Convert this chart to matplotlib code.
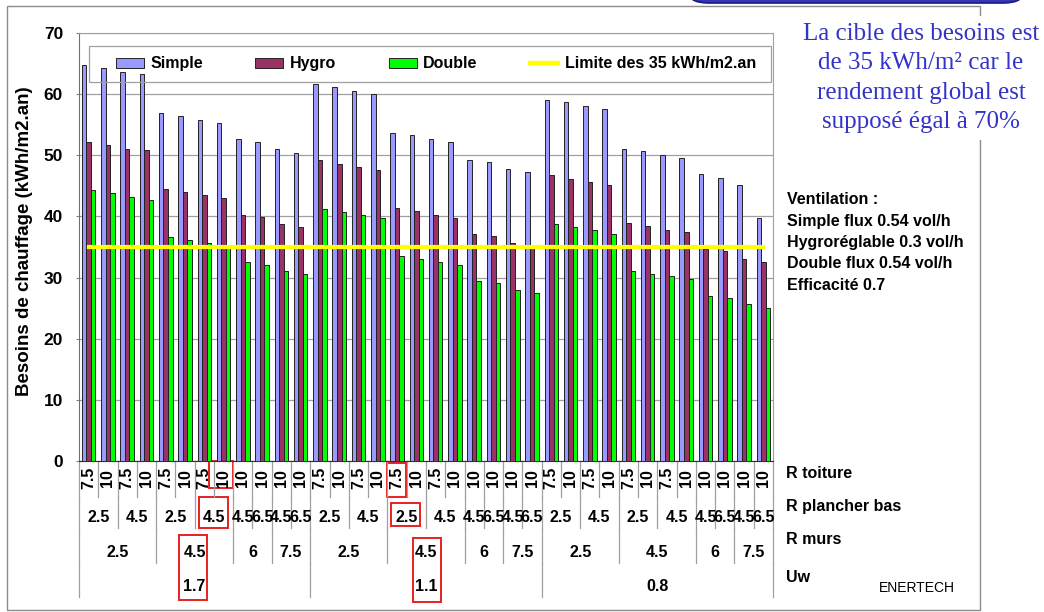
import matplotlib
matplotlib.use("Agg")
import matplotlib.pyplot as plt
import matplotlib.transforms as mtransforms
from matplotlib.patches import Rectangle, FancyBboxPatch, Patch
from matplotlib.lines import Line2D
import numpy as np

plt.rcParams['font.family'] = ['Liberation Sans', 'DejaVu Sans']

# Besoins de chauffage (kWh/m2.an) per configuration
simple = [64.8, 64.3, 63.7, 63.3, 56.9, 56.4, 55.7, 55.2, 52.7, 52.2, 51.0, 50.4,
          61.6, 61.1, 60.5, 60.1, 53.7, 53.3, 52.6, 52.1, 49.3, 48.9, 47.7, 47.3,
          59.1, 58.7, 58.1, 57.5, 51.1, 50.7, 50.1, 49.6, 46.9, 46.3, 45.2, 39.8]
hygro = [52.1, 51.7, 51.1, 50.8, 44.5, 44.0, 43.5, 43.0, 40.3, 39.9, 38.7, 38.3,
         49.2, 48.6, 48.1, 47.6, 41.4, 40.9, 40.3, 39.8, 37.2, 36.8, 35.6, 34.9,
         46.8, 46.2, 45.7, 45.1, 38.9, 38.4, 37.8, 37.4, 34.7, 34.3, 33.1, 32.6]
double = [44.3, 43.8, 43.2, 42.7, 36.6, 36.1, 35.6, 35.2, 32.6, 32.1, 31.1, 30.6,
          41.2, 40.8, 40.2, 39.7, 33.6, 33.1, 32.5, 32.0, 29.4, 29.1, 27.9, 27.4,
          38.7, 38.3, 37.7, 37.2, 31.1, 30.6, 30.2, 29.7, 27.0, 26.6, 25.6, 25.1]
limite = 35

# multi-level category axis
r_toiture = ['7.5', '10', '7.5', '10', '7.5', '10', '7.5', '10', '10', '10', '10', '10',
             '7.5', '10', '7.5', '10', '7.5', '10', '7.5', '10', '10', '10', '10', '10',
             '7.5', '10', '7.5', '10', '7.5', '10', '7.5', '10', '10', '10', '10', '10']
r_plancher = [('2.5', 2), ('4.5', 2), ('2.5', 2), ('4.5', 2), ('4.5', 1), ('6.5', 1), ('4.5', 1), ('6.5', 1)] * 3
r_murs = [('2.5', 4), ('4.5', 4), ('6', 2), ('7.5', 2)] * 3
uw = [('1.7', 12), ('1.1', 12), ('0.8', 12)]

# highlighted configurations (group index)
highlights = [7, 16]

fig = plt.figure(figsize=(10.44, 6.12), dpi=100)
ax = fig.add_axes([79 / 1044, 1 - 461 / 612, 694 / 1044, 428 / 612])

n = len(simple)
x = np.arange(n)
w = 0.235
ax.bar(x - w, simple, w, color='#9999FF', edgecolor='#222222', linewidth=0.7, zorder=3)
ax.bar(x, hygro, w, color='#993366', edgecolor='#222222', linewidth=0.7, zorder=3)
ax.bar(x + w, double, w, color='#00FF00', edgecolor='#222222', linewidth=0.7, zorder=3)
ax.plot([x[0], x[-1]], [limite, limite], color='#FFFF00', linewidth=3.0, zorder=4)

ax.set_xlim(-0.5, n - 0.5)
ax.set_ylim(0, 70)
ax.set_yticks(range(0, 71, 10))
ax.set_xticks([])
ax.grid(True, axis='y', color='#A0A0A0', linewidth=0.9, zorder=0)
ax.tick_params(axis='y', length=2.5, width=0.8, color='#808080', pad=9, labelsize=12.5)
for lab in ax.get_yticklabels():
    lab.set_fontweight('bold')
for side in ['top', 'right']:
    ax.spines[side].set_color('#A0A0A0')
ax.spines['left'].set_color('#707070')
ax.spines['bottom'].set_color('#303030')

ax.set_ylabel('Besoins de chauffage (kWh/m2.an)', fontsize=13.5, fontweight='bold')
ax.yaxis.set_label_coords(-0.067, 0.514)

# legend (frame drawn separately, transparent)
handles = [Patch(facecolor='#9999FF', edgecolor='#222222', linewidth=0.7),
           Patch(facecolor='#993366', edgecolor='#222222', linewidth=0.7),
           Patch(facecolor='#00FF00', edgecolor='#222222', linewidth=0.7),
           Line2D([], [], color='#FFFF00', linewidth=3.2)]
labels = ['Simple', 'Hygro', 'Double', 'Limite des 35 kWh/m2.an']
leg = ax.legend(handles, labels, ncol=4, loc='center left', frameon=False,
                bbox_to_anchor=(0.053, 0.9276), borderpad=0, borderaxespad=0,
                prop={'weight': 'bold', 'size': 11.5}, handlelength=1.75,
                handleheight=0.65, handletextpad=0.4, columnspacing=3.3)
ax.add_patch(Rectangle((0.0144, 0.8855), 0.983, 0.084, transform=ax.transAxes,
                       fill=False, edgecolor='#A0A0A0', linewidth=0.9, zorder=5))

# category levels below the axis
trans = mtransforms.blended_transform_factory(ax.transData, ax.transAxes)
level_bounds = [0, -0.084, -0.157, -0.238, -0.318]
level_text_y = [-0.040, -0.133, -0.213, -0.294]
sep_color = '#A0A0A0'

for i, lab in enumerate(r_toiture):
    ax.text(i, level_text_y[0], lab, transform=trans, rotation=90, ha='center',
            va='center', fontsize=11.5, fontweight='bold')
for e in range(n + 1):
    ax.plot([e - 0.5, e - 0.5], [level_bounds[0], level_bounds[1]], transform=trans,
            color=sep_color, linewidth=0.9, clip_on=False)

for lvl, spans in enumerate([r_plancher, r_murs, uw], start=1):
    pos = 0
    edges = [0]
    for lab, span in spans:
        ax.text(pos + span / 2 - 0.5, level_text_y[lvl], lab, transform=trans,
                ha='center', va='center', fontsize=11.5, fontweight='bold')
        pos += span
        edges.append(pos)
    for e in edges:
        ax.plot([e - 0.5, e - 0.5], [level_bounds[lvl], level_bounds[lvl + 1]],
                transform=trans, color=sep_color, linewidth=0.9, clip_on=False)

# red boxes around highlighted configurations
def red_box(x0, x1, y0, y1):
    ax.add_patch(Rectangle((x0, y0), x1 - x0, y1 - y0, transform=trans, fill=False,
                           edgecolor='#E82020', linewidth=1.4, clip_on=False))

g = highlights[0]
red_box(g - 0.75, g + 0.5, -0.063, 0.0)
red_box(g - 1.28, g + 0.23, -0.157, -0.084)
red_box(g - 2.31, g - 0.86, -0.325, -0.173)
g = highlights[1]
red_box(g - 0.53, g + 0.46, -0.084, -0.005)
red_box(g - 0.33, g + 1.19, -0.152, -0.098)
red_box(g + 0.82, g + 2.28, -0.329, -0.180)

# level names on the right
for name, ypx in zip(['R toiture', 'R plancher bas', 'R murs', 'Uw'], [473, 506, 539, 578]):
    fig.text(786 / 1044, 1 - ypx / 612, name, ha='left', va='center',
             fontsize=11.5, fontweight='bold')
fig.text(879 / 1044, 1 - 588 / 612, 'ENERTECH', ha='left', va='center', fontsize=10)

vent = ['Ventilation :', 'Simple flux 0.54 vol/h', 'Hygroréglable 0.3 vol/h',
        'Double flux 0.54 vol/h', 'Efficacité 0.7']
for k, line in enumerate(vent):
    fig.text(787 / 1044, 1 - (200 + 21.3 * k) / 612, line, ha='left', va='center',
             fontsize=11.5, fontweight='bold')

# outer frame and slide decorations
fig.patches.append(Rectangle((7 / 1044, 1 - 610 / 612), 973 / 1044, 604 / 612,
                             transform=fig.transFigure, fill=False,
                             edgecolor='#8C8C8C', linewidth=1.0))
fig.patches.append(FancyBboxPatch((688 / 1044, 1 - 3 / 612), 336 / 1044, 30 / 612,
                                  boxstyle='round,pad=0,rounding_size=0.02',
                                  transform=fig.transFigure, facecolor='#3535B5',
                                  edgecolor='#1A1A80', linewidth=1.2))
fig.text(921 / 1044, 1 - 78 / 612,
         'La cible des besoins est\nde 35 kWh/m² car le\nrendement global est\nsupposé égal à 70%',
         ha='center', va='center', ma='center', fontsize=18, color='#3333C8',
         family=['Liberation Serif', 'DejaVu Serif'], linespacing=1.45,
         bbox=dict(facecolor='white', edgecolor='none', pad=5))

fig.savefig('out.png', dpi=100)
